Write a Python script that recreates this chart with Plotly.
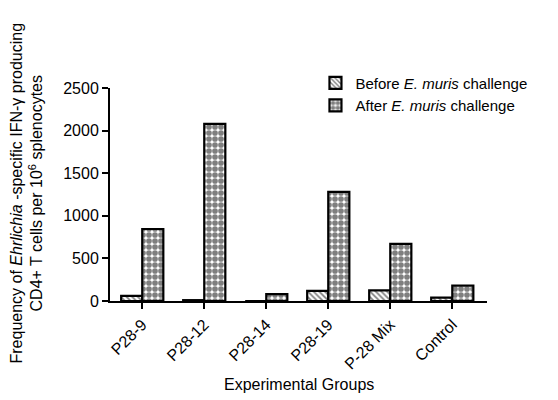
import plotly.graph_objects as go

categories = ["P28-9", "P28-12", "P28-14", "P28-19", "P-28 Mix", "Control"]
before_vals = [60, 10, 0, 120, 125, 40]
after_vals = [845, 2080, 80, 1280, 670, 180]
series_names = ["Before <i>E. muris</i> challenge", "After <i>E. muris</i> challenge"]
y_ticks = [0, 500, 1000, 1500, 2000, 2500]

FONT = "Liberation Sans, Arial, sans-serif"

fig = go.Figure()
fig.add_trace(go.Bar(
    x=categories, y=before_vals, name=series_names[0],
    marker=dict(color="white", line=dict(color="black", width=2.2),
                pattern=dict(shape="\\", fgcolor="black", bgcolor="white", size=4, solidity=0.45)),
))
fig.add_trace(go.Bar(
    x=categories, y=after_vals, name=series_names[1],
    marker=dict(color="white", line=dict(color="black", width=2.2),
                pattern=dict(shape=".", fgcolor="black", bgcolor="white", size=6, solidity=0.7)),
))

fig.update_layout(
    width=550, height=392,
    margin=dict(l=102, r=71, t=80, b=99, autoexpand=False),
    paper_bgcolor="white", plot_bgcolor="white",
    barmode="group", bargap=0.32, bargroupgap=0,
    font=dict(family=FONT, size=16, color="black"),
    showlegend=True,
    legend=dict(x=0.545, y=1.10, xanchor="left", yanchor="top",
                font=dict(size=15, family=FONT), bgcolor="rgba(0,0,0,0)",
                tracegroupgap=0, itemwidth=30),
    xaxis=dict(
        range=[-0.52, 5.56], showline=True, linecolor="black", linewidth=2,
        ticks="outside", ticklen=6, tickwidth=1.5, tickcolor="black",
        tickangle=-45, tickfont=dict(size=16, family=FONT),
        showgrid=False, zeroline=False, automargin=False,
    ),
    yaxis=dict(
        range=[0, 2500], tickvals=y_ticks, showline=True, linecolor="black", linewidth=2,
        ticks="outside", ticklen=6, tickwidth=1.5, tickcolor="black",
        tickfont=dict(size=16, family=FONT),
        showgrid=False, zeroline=False, automargin=False,
    ),
    annotations=[
        dict(text="Frequency of <i>Ehrlichia</i> -specific IFN-\u03b3 producing<br>CD4+ T cells per 10<sup>6</sup> splenocytes",
             xref="paper", yref="paper", x=-0.22, y=0.505, xanchor="center", yanchor="middle",
             textangle=-90, showarrow=False, font=dict(size=16, family=FONT)),
        dict(text="Experimental Groups", xref="paper", yref="paper", x=0.5, y=-0.394,
             xanchor="center", yanchor="middle", showarrow=False, font=dict(size=16, family=FONT)),
    ],
)

fig.write_html("out.html")
